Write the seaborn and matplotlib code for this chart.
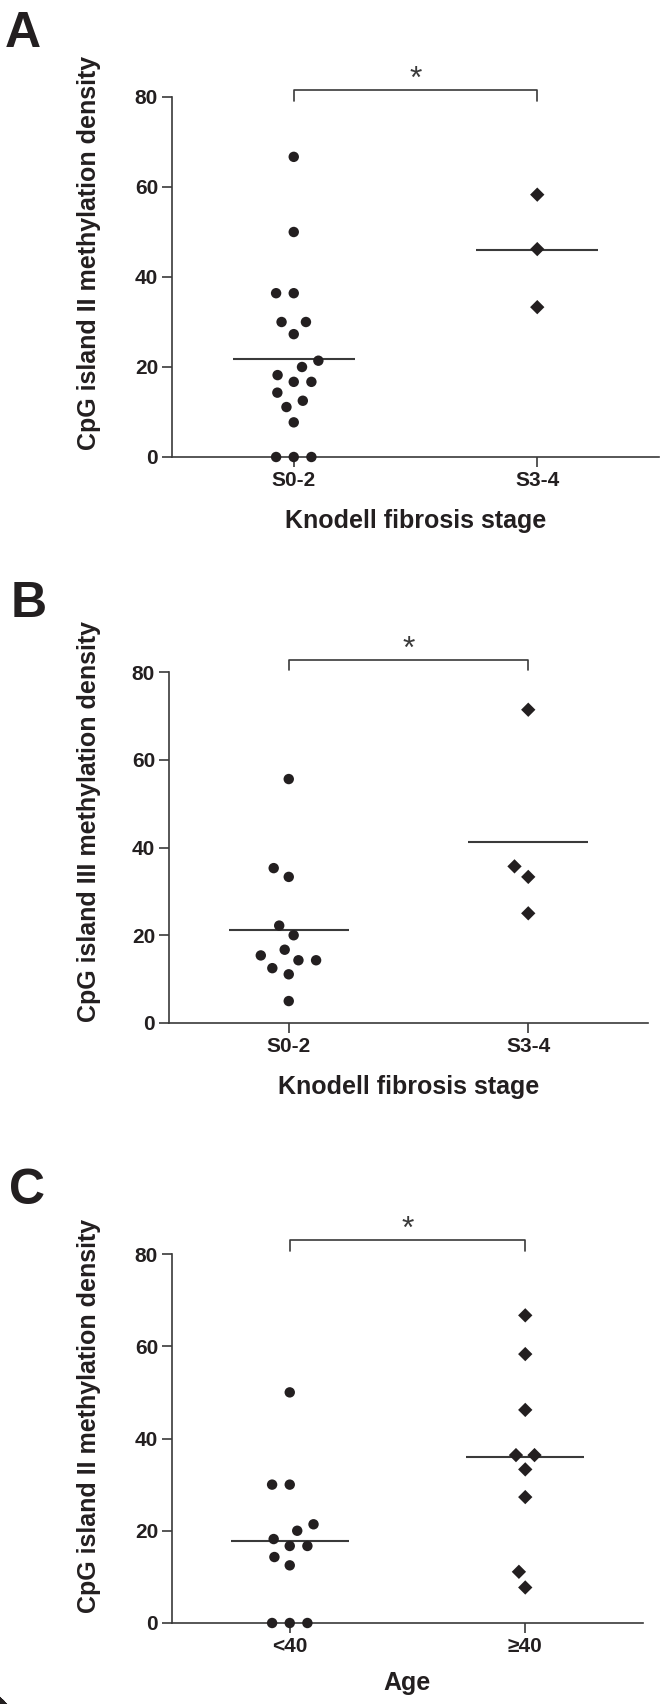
"""
CpG island methylation density dot plots (panels A-C).

Three swarm-style dot plots with group mean lines and significance
brackets, stacked vertically and saved to out.png.
"""

import matplotlib

matplotlib.use("Agg")

import matplotlib.pyplot as plt
import pandas as pd
import seaborn as sns

# ----------------------------------------------------------------------------
# Data
# ----------------------------------------------------------------------------
STAGE_GROUPS = ["S0-2", "S3-4"]
AGE_GROUPS = ["<40", "≥40"]

ISLAND2_S02 = [66.7, 50.0, 36.4, 36.4, 30.0, 30.0, 27.3, 21.4, 20.0, 18.2,
               16.7, 16.7, 14.3, 12.5, 11.1, 7.7, 0.0, 0.0, 0.0]
ISLAND2_S34 = [58.3, 46.2, 33.3]

ISLAND3_S02 = [55.6, 35.3, 33.3, 22.2, 20.0, 16.7, 15.4, 14.3, 14.3, 12.5,
               11.1, 5.0]
ISLAND3_S34 = [71.4, 35.7, 33.3, 25.0]

ISLAND2_UNDER40 = [50.0, 30.0, 30.0, 21.4, 20.0, 18.2, 16.7, 16.7, 14.3, 12.5,
                   0.0, 0.0, 0.0]
ISLAND2_OVER40 = [66.7, 58.3, 46.2, 36.4, 36.4, 33.3, 27.3, 11.1, 7.7]

Y_TICKS = [0, 20, 40, 60, 80]

# ----------------------------------------------------------------------------
# Configuration
# ----------------------------------------------------------------------------
FIG_W, FIG_H, DPI = 664, 1704, 100
INK = "#231f20"
GRAY = "#3a3a3a"
TICK_FONT = ["Liberation Sans Narrow", "Liberation Sans", "DejaVu Sans"]
LABEL_FONT = ["Liberation Sans", "DejaVu Sans"]

# layout in pixels: axes box = (left, top, right, bottom)
PANELS = [
    dict(letter="A", groups=STAGE_GROUPS, low=ISLAND2_S02, high=ISLAND2_S34,
         ylabel="CpG island II methylation density",
         xlabel="Knodell fibrosis stage",
         box=(172, 97, 659, 457), letter_at=(5, 47), ylabel_at=(89, 253),
         xlabel_y=521, bracket=(79.2, 81.5)),
    dict(letter="B", groups=STAGE_GROUPS, low=ISLAND3_S02, high=ISLAND3_S34,
         ylabel="CpG island III methylation density",
         xlabel="Knodell fibrosis stage",
         box=(169, 672, 648, 1023), letter_at=(11, 617), ylabel_at=(89, 822),
         xlabel_y=1087, bracket=(80.4, 82.7)),
    dict(letter="C", groups=AGE_GROUPS, low=ISLAND2_UNDER40, high=ISLAND2_OVER40,
         ylabel="CpG island II methylation density",
         xlabel="Age",
         box=(172, 1254, 643, 1623), letter_at=(9, 1204), ylabel_at=(89, 1416),
         xlabel_y=1683, bracket=(80.6, 83.0)),
]


def px_rect(box):
    """Convert a pixel box to a figure-fraction rectangle."""
    left, top, right, bottom = box
    return [left / FIG_W, 1 - bottom / FIG_H, (right - left) / FIG_W,
            (bottom - top) / FIG_H]


def draw_panel(fig, cfg):
    ax = fig.add_axes(px_rect(cfg["box"]))
    g_low, g_high = cfg["groups"]
    df = pd.DataFrame({
        "group": [g_low] * len(cfg["low"]) + [g_high] * len(cfg["high"]),
        "value": cfg["low"] + cfg["high"],
    })

    # invisible edge width only widens the swarm spacing
    for group, marker, size, spacer in [(g_low, "o", 7.5, 4.6),
                                        (g_high, "D", 7.3, 4.8)]:
        sns.swarmplot(data=df[df["group"] == group], x="group", y="value",
                      order=cfg["groups"], marker=marker, size=size,
                      color=INK, linewidth=spacer, edgecolor="none",
                      clip_on=False, zorder=3, ax=ax)

    means = df.groupby("group", sort=False)["value"].mean()
    for i, group in enumerate(cfg["groups"]):
        ax.hlines(means[group], i - 0.25, i + 0.25, color=GRAY, lw=1.5,
                  zorder=2)

    # significance bracket
    leg, top = cfg["bracket"]
    ax.plot([0, 0, 1, 1], [leg, top, top, leg], color=GRAY, lw=1.2,
            clip_on=False)
    ax.text(0.5, top + 0.5, "*", ha="center", va="baseline", fontsize=23,
            color=GRAY, family=LABEL_FONT, clip_on=False)

    ax.set_xlim(-0.5, 1.5)
    ax.set_ylim(0, 80)
    ax.set_yticks(Y_TICKS)
    sns.despine(ax=ax)
    for side in ("left", "bottom"):
        ax.spines[side].set_color(GRAY)
        ax.spines[side].set_linewidth(1.2)
    ax.tick_params(length=7, width=1.2, color=GRAY, pad=3, labelsize=15,
                   labelcolor=INK)
    for lab in ax.get_xticklabels() + ax.get_yticklabels():
        lab.set_family(TICK_FONT)
        lab.set_weight("bold")

    left, top_px, right, bottom = cfg["box"]
    width, height = right - left, bottom - top_px
    ax.set_ylabel(cfg["ylabel"], fontsize=18, fontweight="bold",
                  family=LABEL_FONT, color=INK, va="center")
    lx, ly = cfg["ylabel_at"]
    ax.yaxis.set_label_coords((lx - left) / width, (bottom - ly) / height)
    ax.set_xlabel(cfg["xlabel"], fontsize=18, fontweight="bold",
                  family=LABEL_FONT, color=INK, va="center")
    ax.xaxis.set_label_coords(0.5, (bottom - cfg["xlabel_y"]) / height)

    x, base = cfg["letter_at"]
    fig.text(x / FIG_W, 1 - base / FIG_H, cfg["letter"], fontsize=36,
             fontweight="bold", family=LABEL_FONT, color=INK,
             ha="left", va="baseline")


def main():
    sns.set_style("ticks")
    plt.rcParams["font.family"] = LABEL_FONT
    fig = plt.figure(figsize=(FIG_W / DPI, FIG_H / DPI), dpi=DPI)
    for cfg in PANELS:
        draw_panel(fig, cfg)
    fig.savefig("out.png", dpi=DPI, facecolor="white")
    plt.close(fig)


if __name__ == "__main__":
    main()
